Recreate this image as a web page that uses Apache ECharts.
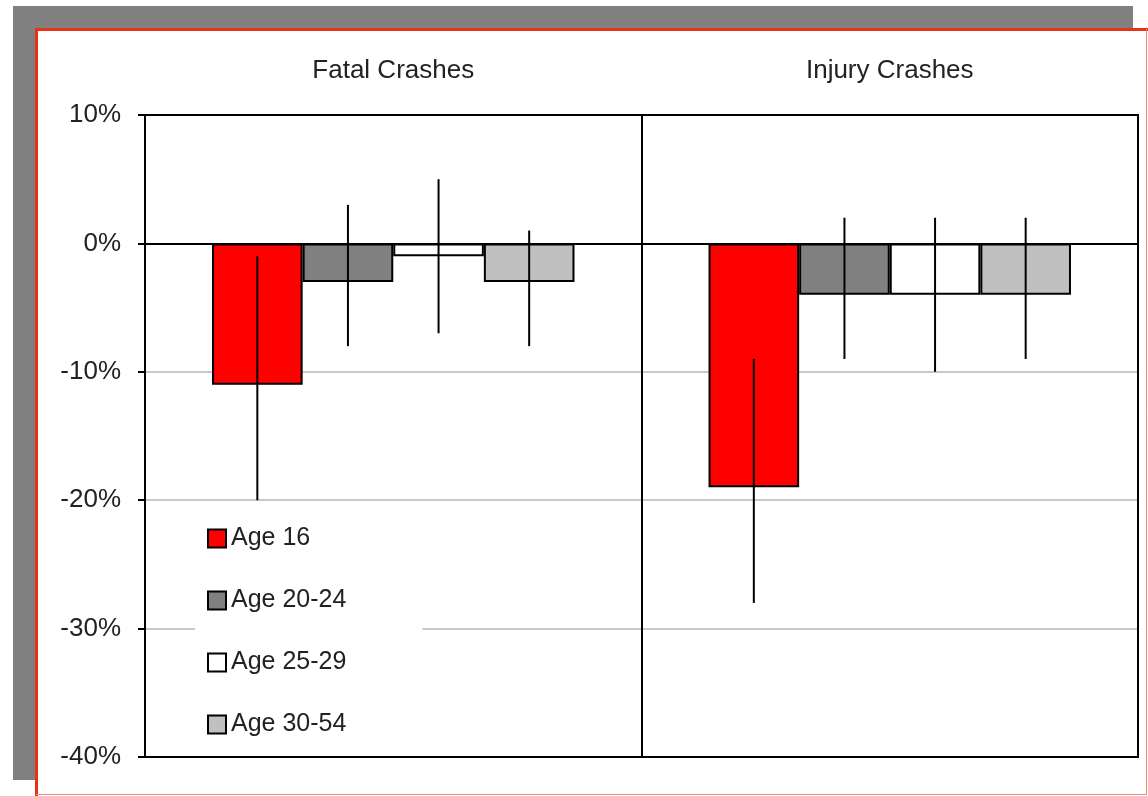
<!DOCTYPE html>
<html>
<head>
<meta charset="utf-8">
<script src="https://cdn.jsdelivr.net/npm/echarts@6/dist/echarts.min.js"></script>
<style>
  html, body { margin: 0; padding: 0; background: #fff; }
</style>
</head>
<body>
<div style="width:1148px;height:796px;" id="crash_chart"></div>
<script>
// categories and values (percent change)
var categories = ['Fatal Crashes', 'Injury Crashes'];
var ageNames = ['Age 16', 'Age 20-24', 'Age 25-29', 'Age 30-54'];
var age16 = [-11, -19];
var age20to24 = [-3, -4];
var age25to29 = [-1, -4];
var age30to54 = [-3, -4];
// error bars: [category index, low, high]
var err16 = [[0, -20, -1], [1, -28, -9]];
var err20to24 = [[0, -8, 3], [1, -9, 2]];
var err25to29 = [[0, -7, 5], [1, -10, 2]];
var err30to54 = [[0, -8, 1], [1, -9, 2]];
var yTicks = [-40, -30, -20, -10, 0, 10];

var barColors = ['#ff0000', '#808080', '#ffffff', '#c0c0c0'];
var catGap = 0.27;
var font = "'Liberation Sans', Arial, sans-serif";

function barSeries(name, data, color) {
    return {
        name: name,
        type: 'bar',
        barGap: 0,
        barCategoryGap: (catGap * 100) + '%',
        itemStyle: { color: color, borderColor: '#000', borderWidth: 2 },
        data: data
    };
}

function errSeries(k, data) {
    return {
        type: 'custom',
        z: 5,
        silent: true,
        renderItem: function (params, api) {
            var idx = api.value(0);
            var low = api.coord([idx, api.value(1)]);
            var high = api.coord([idx, api.value(2)]);
            var barW = api.size([1, 0])[0] * (1 - catGap) / 4;
            var x = low[0] + (k - 1.5) * barW;
            return {
                type: 'line',
                shape: { x1: x, y1: high[1], x2: x, y2: low[1] },
                style: { stroke: '#000', lineWidth: 2 }
            };
        },
        encode: { x: 0, y: [1, 2] },
        data: data
    };
}

var option = {
    animation: false,
    textStyle: { fontFamily: font },
    graphic: [
        { type: 'rect', z: -10, shape: { x: 13, y: 6, width: 1120, height: 774 }, style: { fill: '#808080' } },
        { type: 'rect', z: -9, shape: { x: 35, y: 28, width: 1113, height: 768 }, style: { fill: '#fff' } },
        { type: 'polyline', z: -8, shape: { points: [[36.5, 796], [36.5, 29.5], [1148, 29.5]] }, style: { stroke: '#e5331a', lineWidth: 3, fill: null } },
        { type: 'polyline', z: -8, shape: { points: [[1146.5, 29], [1146.5, 794.5], [36, 794.5]] }, style: { stroke: '#f08a78', lineWidth: 1, fill: null } }
    ],
    legend: {
        orient: 'vertical',
        left: 195,
        top: 512,
        padding: [14, 76, 8, 12],
        backgroundColor: '#fff',
        icon: 'rect',
        itemWidth: 18,
        itemHeight: 18,
        itemGap: 37,
        data: ageNames,
        textStyle: { fontSize: 25, color: '#222', fontFamily: font }
    },
    grid: {
        left: 145,
        top: 115,
        width: 993,
        height: 642,
        show: true,
        borderColor: '#000',
        borderWidth: 2,
        backgroundColor: 'transparent'
    },
    xAxis: {
        type: 'category',
        position: 'top',
        data: categories,
        axisLine: { show: true, onZero: false, lineStyle: { color: '#000', width: 2 } },
        axisTick: { show: false },
        axisLabel: { fontSize: 26, color: '#222', margin: 31, fontFamily: font },
        splitLine: { show: true, lineStyle: { color: '#000', width: 2 } }
    },
    yAxis: {
        type: 'value',
        min: yTicks[0],
        max: yTicks[yTicks.length - 1],
        interval: 10,
        axisLine: { show: true, lineStyle: { color: '#000', width: 2 } },
        axisTick: { show: true, length: 7, lineStyle: { color: '#000', width: 2 } },
        axisLabel: { fontSize: 26, color: '#222', margin: 24, formatter: '{value}%', fontFamily: font },
        splitLine: {
            show: true,
            lineStyle: { color: ['#000', '#c8c8c8', '#c8c8c8', '#c8c8c8', '#000', '#000'], width: 2 }
        }
    },
    series: [
        barSeries(ageNames[0], age16, barColors[0]),
        barSeries(ageNames[1], age20to24, barColors[1]),
        barSeries(ageNames[2], age25to29, barColors[2]),
        barSeries(ageNames[3], age30to54, barColors[3]),
        errSeries(0, err16),
        errSeries(1, err20to24),
        errSeries(2, err25to29),
        errSeries(3, err30to54)
    ]
};

var crashChart = echarts.init(document.getElementById('crash_chart'));
crashChart.setOption(option);
window.addEventListener('resize', function () {
    crashChart.resize();
});
</script>
</body>
</html>
